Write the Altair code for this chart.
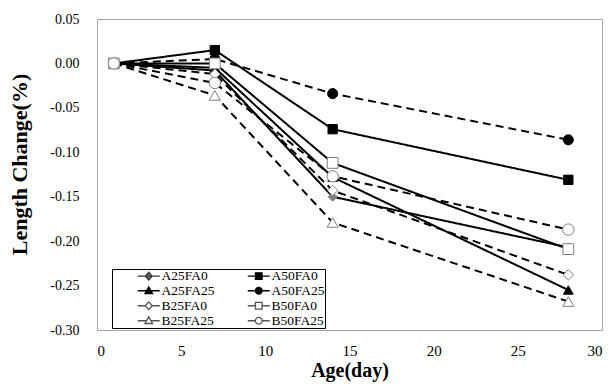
import altair as alt
import pandas as pd

days = [1, 7, 14, 28]
series = ["A25FA0", "A50FA0", "A25FA25", "A50FA25", "B25FA0", "B50FA0", "B25FA25", "B50FA25"]
A25FA0 = [0.000, -0.008, -0.150, -0.207]
A50FA0 = [0.000, 0.015, -0.074, -0.131]
A25FA25 = [0.000, -0.005, -0.128, -0.255]
A50FA25 = [0.000, 0.005, -0.034, -0.086]
B25FA0 = [0.000, -0.012, -0.143, -0.238]
B50FA0 = [0.000, 0.000, -0.112, -0.209]
B25FA25 = [0.000, -0.036, -0.179, -0.268]
B50FA25 = [0.000, -0.022, -0.127, -0.187]
values = [A25FA0, A50FA0, A25FA25, A50FA25, B25FA0, B50FA0, B25FA25, B50FA25]

x_ticks = [0, 5, 10, 15, 20, 25, 30]
y_ticks = [0.05, 0.00, -0.05, -0.10, -0.15, -0.20, -0.25, -0.30]

rows = []
for s, vals in zip(series, values):
    for d, v in zip(days, vals):
        rows.append({"day": d, "change": v, "series": s})
df = pd.DataFrame(rows)

dash_range = [[1, 0], [1, 0], [1, 0], [8, 5], [8, 5], [1, 0], [8, 5], [8, 5]]
shape_range = ["diamond", "square", "triangle-up", "circle", "diamond", "square", "triangle-up", "circle"]
fill_range = ["#808080", "black", "black", "black", "white", "white", "white", "white"]
stroke_range = ["#808080", "black", "black", "black", "#808080", "#808080", "#808080", "#808080"]
size_range = [80, 130, 130, 115, 115, 130, 130, 115]

# legend entries are laid out column by column: order so rows read A25FA0 | A50FA0 ...
leg_order = ["A25FA0", "A25FA25", "B25FA0", "B25FA25", "A50FA0", "A50FA25", "B50FA0", "B50FA25"]
leg_shape_by = {
    "A25FA0": "M-2,0H2M0,-0.7L0.6,0L0,0.7L-0.6,0Z",
    "A50FA0": "M-2,0H2M-0.6,-0.6H0.6V0.6H-0.6Z",
    "A25FA25": "M-2,0H2M0,-0.7L0.68,0.5H-0.68Z",
    "A50FA25": "M-2,0H2M-0.62,0A0.62,0.62,0,1,1,0.62,0A0.62,0.62,0,1,1,-0.62,0Z",
    "B25FA0": "M-2,0H-0.65M0.65,0H2M0,-0.7L0.65,0L0,0.7L-0.65,0Z",
    "B50FA0": "M-2,0H-0.6M0.6,0H2M-0.6,-0.6H0.6V0.6H-0.6Z",
    "B25FA25": "M-2,0H-0.5M0.5,0H2M0,-0.7L0.68,0.5H-0.68Z",
    "B50FA25": "M-2,0H-0.62M0.62,0H2M-0.62,0A0.62,0.62,0,1,1,0.62,0A0.62,0.62,0,1,1,-0.62,0Z",
}
leg_fill_by = {"A25FA0": "#808080", "A50FA0": "black", "A25FA25": "black", "A50FA25": "black",
               "B25FA0": "white", "B50FA0": "white", "B25FA25": "white", "B50FA25": "white"}
leg_stroke_by = {"A25FA0": "#333333", "A50FA0": "black", "A25FA25": "black", "A50FA25": "black",
                 "B25FA0": "#555555", "B50FA0": "#555555", "B25FA25": "#555555", "B50FA25": "#555555"}
leg_shapes = [leg_shape_by[s] for s in leg_order]
leg_fill = [leg_fill_by[s] for s in leg_order]
leg_stroke = [leg_stroke_by[s] for s in leg_order]

FONT = "Liberation Serif"

x_enc = alt.X("day:Q", scale=alt.Scale(domain=[0, 30], nice=False),
              axis=alt.Axis(values=x_ticks, title="Age(day)", labelFont=FONT, titleFont=FONT,
                            labelFontSize=15, labelPadding=13, titleFontSize=20, titleY=30,
                            titleBaseline="top"))
y_enc = alt.Y("change:Q", scale=alt.Scale(domain=[-0.30, 0.05], nice=False, zero=False),
              axis=alt.Axis(values=y_ticks, title="Length Change(%)",
                            labelExpr="replace(format(datum.value, '.2f'), '\u2212', '-')",
                            labelFont=FONT, titleFont=FONT,
                            labelFontSize=14, labelPadding=18, titleFontSize=22,
                            titleX=-66, titleY=145, titleBaseline="bottom"))

lines = alt.Chart(df).mark_line(color="black", strokeWidth=2).encode(
    x=x_enc, y=y_enc,
    detail="series:N",
    strokeDash=alt.StrokeDash("series:N", scale=alt.Scale(domain=series, range=dash_range), legend=None),
)

points = alt.Chart(df).mark_point(strokeWidth=1, opacity=1).encode(
    x=x_enc, y=y_enc,
    shape=alt.Shape("series:N", scale=alt.Scale(domain=series, range=shape_range), legend=None),
    fill=alt.Fill("series:N", scale=alt.Scale(domain=series, range=fill_range), legend=None),
    stroke=alt.Stroke("series:N", scale=alt.Scale(domain=series, range=stroke_range), legend=None),
    size=alt.Size("series:N", scale=alt.Scale(domain=series, range=size_range), legend=None),
)

legend = alt.Legend(
    title=None, orient="none", legendX=15, legendY=250, columns=2,
    strokeColor="black", fillColor="white", padding=0,
    symbolSize=121, symbolStrokeWidth=1.3, symbolOffset=30, labelOffset=6,
    labelFont=FONT, labelFontSize=13.5, labelColor="black",
    columnPadding=7, rowPadding=0,
)
leg_layer = alt.Chart(df).mark_point(strokeWidth=1.3, opacity=1).encode(
    x=x_enc, y=y_enc,
    shape=alt.Shape("series:N", scale=alt.Scale(domain=leg_order, range=leg_shapes), legend=legend),
    fill=alt.Fill("series:N", scale=alt.Scale(domain=leg_order, range=leg_fill), legend=legend),
    stroke=alt.Stroke("series:N", scale=alt.Scale(domain=leg_order, range=leg_stroke), legend=legend),
).transform_filter("datum.day < 0")

chart = alt.layer(lines, points, leg_layer).resolve_scale(
    shape="independent", fill="independent", stroke="independent"
).properties(
    width=505, height=311,
    autosize=alt.AutoSizeParams(type="none"),
    padding={"left": 97, "top": 19, "right": 9, "bottom": 55},
).configure(
    font=FONT
).configure_view(
    stroke="#a6a6a6", strokeWidth=1
).configure_axis(
    domain=False, ticks=False, grid=False,
    labelFont=FONT, titleFont=FONT,
    labelColor="black", titleColor="black", titleFontWeight="bold",
)

chart.save("out.html", embed_options={"renderer": "svg", "actions": False})
